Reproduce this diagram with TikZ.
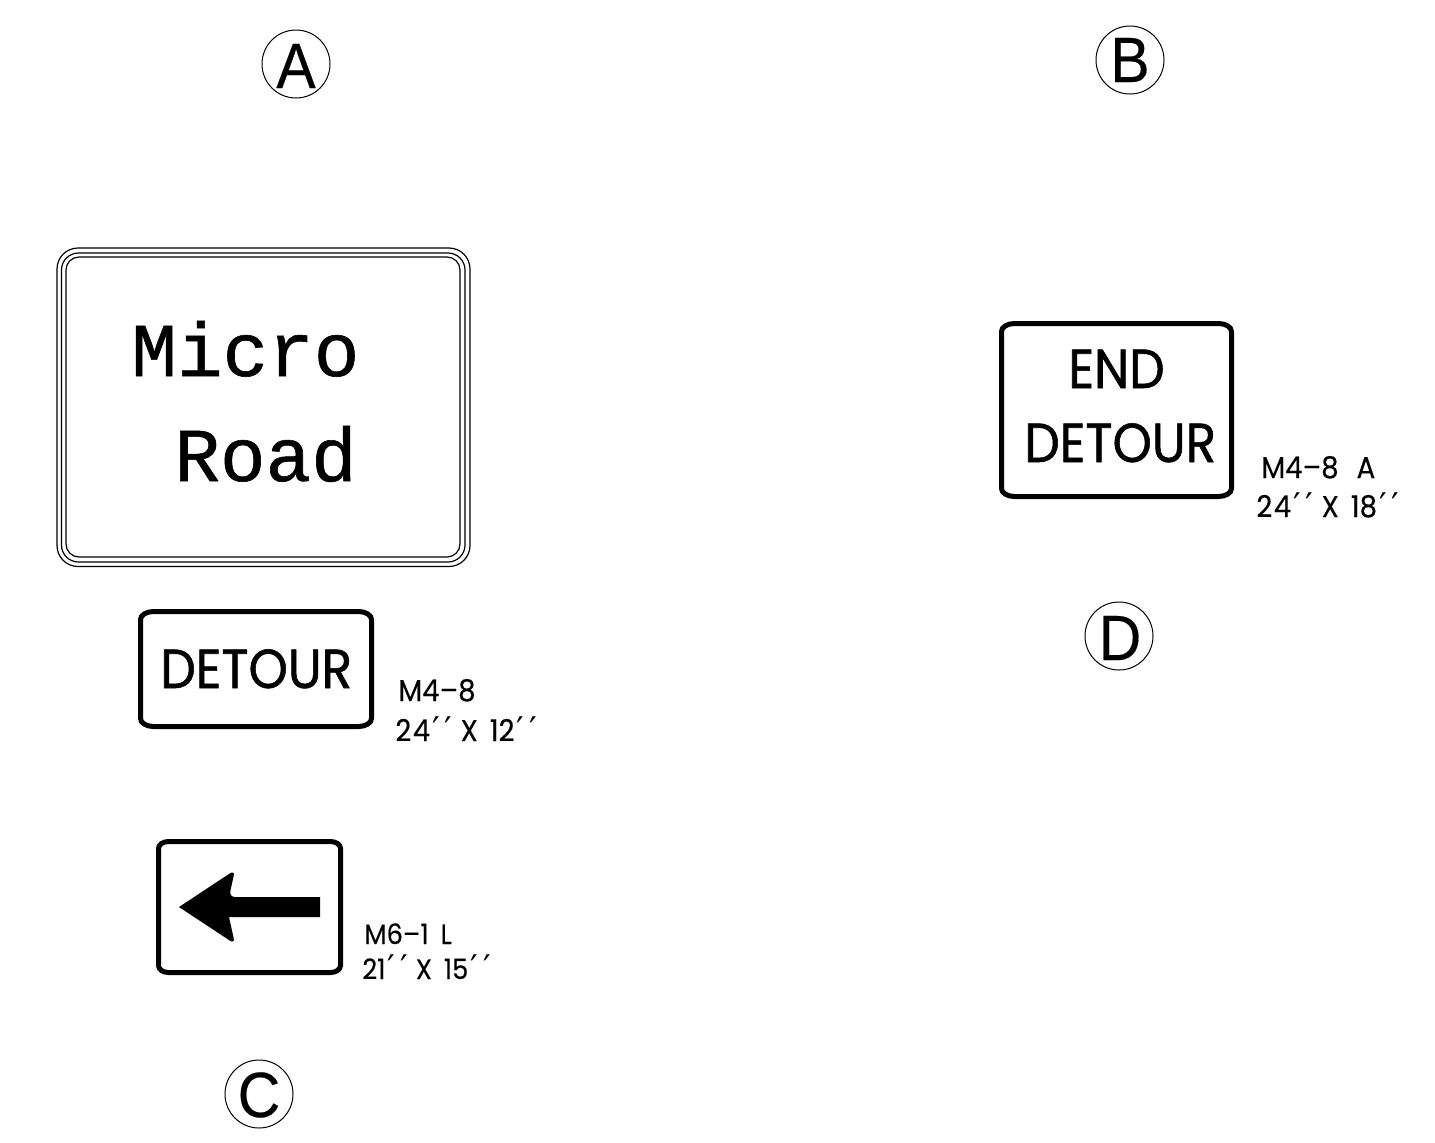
\documentclass[tikz,border=0pt]{standalone}
\usepackage{fontspec}
\setmainfont{Poppins}
\newfontfamily\signfont[FakeBold=1.0,FakeStretch=0.91]{Poppins}
\newfontfamily\legendfont[FakeBold=0.3,FakeStretch=0.92]{Poppins}
\newfontfamily\signmono[FakeBold=0.8]{Liberation Mono}
\newfontfamily\circfont[FakeBold=0.3,FakeStretch=0.92]{Liberation Sans}
\newfontfamily\primefont{DejaVu Sans}
\newcommand{\dprime}{\kern1pt{\primefont\fontsize{17}{17}\selectfont ′\kern2.5pt′}}
\newcommand{\panelbox}[6]{%
  \draw[panel] (#1+#5,#2) -- (#3-#5,#2)
    arc[start angle=-90,end angle=0,x radius=#5,y radius=#6]
    -- (#3,#4-#6)
    arc[start angle=0,end angle=90,x radius=#5,y radius=#6]
    -- (#1+#5,#4)
    arc[start angle=90,end angle=180,x radius=#5,y radius=#6]
    -- (#1,#2+#6)
    arc[start angle=180,end angle=270,x radius=#5,y radius=#6]
    -- cycle;}
\tikzset{
  panel/.style={draw=black,line width=2.5pt},
  outline/.style={draw=black,line width=0.6pt},
  tag/.style={circle,draw=black,line width=0.5pt,minimum size=34pt,inner sep=0pt},
  tagtext/.style={anchor=base,inner sep=0pt,font=\circfont\fontsize{32}{32}\selectfont},
  legend/.style={anchor=base west,inner sep=0pt,font=\legendfont\fontsize{15}{15}\selectfont},
  legendsmall/.style={anchor=base west,inner sep=0pt,font=\legendfont\fontsize{14}{14}\selectfont},
  signtext/.style={anchor=base west,inner sep=0pt,font=\signfont\fontsize{27.5}{28}\selectfont},
  monotext/.style={anchor=base west,inner sep=0pt,font=\signmono\fontsize{38}{38}\selectfont}
}
\begin{document}
\begin{tikzpicture}[x=0.5pt,y=-0.5pt]
\useasboundingbox (0,0) rectangle (1435,1142);
% circled letters
\node[tag] (tagA) at (296,64) {};
\node[tagtext] (letA) at (296,88) {A};
\node[tag] (tagB) at (1130,60) {};
\node[tagtext] (letB) at (1130,82) {B};
\node[tag] (tagC) at (259,1094) {};
\node[tagtext] (letC) at (259,1117) {C};
\node[tag] (tagD) at (1119,636) {};
\node[tagtext] (letD) at (1120,660) {D};
% Micro Road sign
\draw[outline,rounded corners=10.5pt] (57,248) rectangle (470,566.5);
\draw[outline,rounded corners=8.5pt] (61.5,253) rectangle (465,562);
\draw[outline,rounded corners=6.5pt] (66,257) rectangle (460,557);
\node[monotext] (micro) at (131,376) {Micro};
\node[monotext] (road) at (174,481) {Road};
% DETOUR sign
\panelbox{140.5}{611.5}{371.5}{726.5}{13}{8}
\node[signtext] (detour) at (160,688) {DETOUR};
\node[legend] (m48) at (398,701) {M4–8};
\node[legend] (s48) at (395,741) {2\kern0.8pt 4\dprime\kern4pt X\kern6pt 12\dprime};
% arrow sign
\panelbox{158.5}{841.5}{340.5}{972.5}{10}{7}
\fill[black] (179,907) [rounded corners=3pt] -- (235,870) -- (229,897) [sharp corners] -- (320,897) -- (320,917) -- (229,917) [rounded corners=3pt] -- (235,944) [sharp corners] -- (179,907) -- cycle;
\node[legendsmall] (m61) at (364,944) {M6–1\kern6pt L};
\node[legendsmall] (s61) at (362,979) {21\dprime\kern4pt X\kern6pt 15\dprime};
% END DETOUR sign
\panelbox{1001.5}{323.5}{1231.5}{496.5}{13}{8}
\node[signtext] (endw) at (1068,388) {END};
\node[signtext] (detourb) at (1024,462) {DETOUR};
\node[legend] (m48a) at (1261,478) {M4–8\kern9pt A};
\node[legend] (s48a) at (1256,517) {2\kern0.8pt 4\dprime\kern4pt X\kern6pt 18\dprime};
\end{tikzpicture}
\end{document}
